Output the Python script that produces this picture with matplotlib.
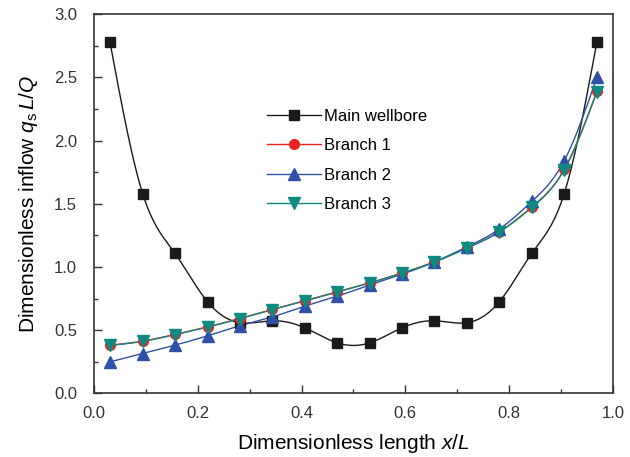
import numpy as np
import matplotlib
matplotlib.use("Agg")
import matplotlib.pyplot as plt
from matplotlib.ticker import MultipleLocator, FormatStrFormatter

plt.rcParams["font.family"] = ["Liberation Sans", "DejaVu Sans"]
plt.rcParams["mathtext.fontset"] = "custom"
plt.rcParams["mathtext.rm"] = "Liberation Sans"
plt.rcParams["mathtext.it"] = "Liberation Sans:italic"

# segment centres along the well, x/L
x = [0.031, 0.094, 0.156, 0.219, 0.281, 0.344, 0.406, 0.469,
     0.531, 0.594, 0.656, 0.719, 0.781, 0.844, 0.906, 0.969]
main_wellbore = [2.78, 1.58, 1.11, 0.725, 0.56, 0.575, 0.52, 0.40,
                 0.40, 0.52, 0.575, 0.56, 0.725, 1.11, 1.58, 2.78]
branch1 = [0.382, 0.414, 0.467, 0.527, 0.593, 0.665, 0.733, 0.804,
           0.875, 0.954, 1.041, 1.152, 1.279, 1.476, 1.772, 2.39]
branch2 = [0.25, 0.316, 0.382, 0.456, 0.535, 0.606, 0.69, 0.77,
           0.857, 0.944, 1.04, 1.16, 1.30, 1.52, 1.84, 2.50]
branch3 = [0.380, 0.412, 0.465, 0.525, 0.591, 0.663, 0.731, 0.802,
           0.873, 0.952, 1.039, 1.150, 1.277, 1.472, 1.768, 2.385]


def smooth(xs, ys, n=20):
    # natural cubic spline through the points (for the drawn curve only)
    xs = np.asarray(xs, float)
    ys = np.asarray(ys, float)
    k = len(xs)
    h = np.diff(xs)
    A = np.zeros((k, k))
    r = np.zeros(k)
    A[0, 0] = A[-1, -1] = 1.0
    for i in range(1, k - 1):
        A[i, i - 1] = h[i - 1]
        A[i, i] = 2 * (h[i - 1] + h[i])
        A[i, i + 1] = h[i]
        r[i] = 6 * ((ys[i + 1] - ys[i]) / h[i] - (ys[i] - ys[i - 1]) / h[i - 1])
    m = np.linalg.solve(A, r)
    xo, yo = [], []
    for i in range(k - 1):
        t = np.linspace(xs[i], xs[i + 1], n, endpoint=False)
        a = xs[i + 1] - t
        b = t - xs[i]
        y = (m[i] * a ** 3 + m[i + 1] * b ** 3) / (6 * h[i]) \
            + (ys[i] / h[i] - m[i] * h[i] / 6) * a \
            + (ys[i + 1] / h[i] - m[i + 1] * h[i] / 6) * b
        xo.extend(t)
        yo.extend(y)
    xo.append(xs[-1])
    yo.append(ys[-1])
    return xo, yo


series = [
    ("Main wellbore", main_wellbore, "#1a1a1a", "s", 7),
    ("Branch 1", branch1, "#ee2222", "o", 7),
    ("Branch 2", branch2, "#3050a8", "^", 8),
    ("Branch 3", branch3, "#0e8a80", "v", 8),
]

fig = plt.figure(figsize=(6.3, 4.57), dpi=100)
ax = fig.add_axes([0.149, 0.139, 0.824, 0.83])

for label, ys, col, mk, ms in series:
    sx, sy = smooth(x, ys)
    ax.plot(sx, sy, "-", color=col, lw=1.0, zorder=2)
    ax.plot(x, ys, mk, color=col, ms=ms, mec=col, zorder=3)
    ax.plot([], [], "-", marker=mk, color=col, ms=ms, lw=1.0, label=label)

ax.set_xlim(0, 1.0)
ax.set_ylim(0, 3.0)
ax.xaxis.set_major_locator(MultipleLocator(0.2))
ax.xaxis.set_minor_locator(MultipleLocator(0.1))
ax.yaxis.set_major_locator(MultipleLocator(0.5))
ax.yaxis.set_minor_locator(MultipleLocator(0.25))
ax.xaxis.set_major_formatter(FormatStrFormatter("%.1f"))
ax.yaxis.set_major_formatter(FormatStrFormatter("%.1f"))
ax.tick_params(which="both", direction="in", top=False, right=False,
               labelsize=12, colors="#333333")
ax.tick_params(axis="y", pad=12)
ax.tick_params(axis="x", pad=9)
ax.tick_params(which="major", length=6, width=1)
ax.tick_params(which="minor", length=3, width=1)
for s in ax.spines.values():
    s.set_color("#333333")
    s.set_linewidth(1.2)

ax.set_xlabel(r"Dimensionless length $x/L$", fontsize=15, labelpad=8)
ax.set_ylabel(r"Dimensionless inflow $q_{\mathrm{s}}\,L/Q$", fontsize=15,
              labelpad=10)

ax.legend(loc="upper left", bbox_to_anchor=(0.305, 0.79), frameon=False,
          fontsize=12, handlelength=3.2, labelspacing=0.87, handletextpad=0.2)

fig.savefig("out.png", dpi=100)
